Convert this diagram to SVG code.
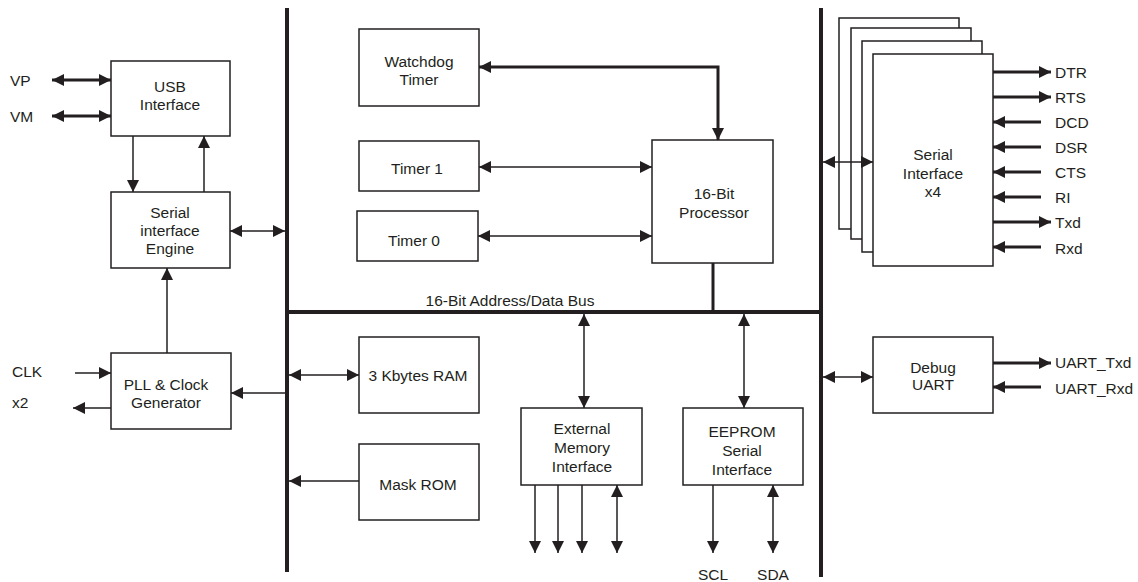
<svg xmlns="http://www.w3.org/2000/svg" width="1138" height="582" viewBox="0 0 1138 582">
<style>
.box{fill:#fff;stroke:#231f20;stroke-width:1.5}
.t{font-family:"Liberation Sans",Arial,sans-serif;font-size:15.5px;fill:#231f20}
.c{text-anchor:middle}
.bus{stroke:#231f20;stroke-width:4;fill:none}
.thin{stroke:#231f20;stroke-width:1.5;fill:none}
.thick{stroke:#231f20;stroke-width:3;fill:none}
</style>
<defs>
<marker id="ah" viewBox="0 0 12 12" refX="12" refY="6" markerWidth="12" markerHeight="12" markerUnits="userSpaceOnUse" orient="auto-start-reverse">
<path d="M0,0 L12,6 L0,12 z" fill="#231f20"/>
</marker>
</defs>
<g id="connectors">
<line class="bus" x1="287" y1="8" x2="287" y2="572"/>
<line class="bus" x1="821" y1="8" x2="821" y2="577"/>
<line class="bus" x1="287" y1="312" x2="823" y2="312"/>
<line class="thick" x1="713" y1="263" x2="713" y2="312"/>
<line class="thick" x1="52" y1="80" x2="111" y2="80" marker-start="url(#ah)" marker-end="url(#ah)"/>
<line class="thick" x1="52" y1="116" x2="111" y2="116" marker-start="url(#ah)" marker-end="url(#ah)"/>
<line class="thin" x1="133" y1="136" x2="133" y2="192" marker-end="url(#ah)"/>
<line class="thin" x1="204" y1="192" x2="204" y2="136" marker-end="url(#ah)"/>
<line class="thin" x1="230" y1="231" x2="285" y2="231" marker-start="url(#ah)" marker-end="url(#ah)"/>
<line class="thin" x1="167" y1="353" x2="167" y2="268" marker-end="url(#ah)"/>
<line class="thin" x1="75" y1="373" x2="111" y2="373" marker-end="url(#ah)"/>
<line class="thin" x1="111" y1="408" x2="73" y2="408" marker-end="url(#ah)"/>
<line class="thin" x1="285" y1="393" x2="231" y2="393" marker-end="url(#ah)"/>
<polyline class="thick" points="479,67 718,67 718,140" marker-start="url(#ah)" marker-end="url(#ah)"/>
<line class="thin" x1="479" y1="167" x2="652" y2="167" marker-start="url(#ah)" marker-end="url(#ah)"/>
<line class="thin" x1="478" y1="236" x2="652" y2="236" marker-start="url(#ah)" marker-end="url(#ah)"/>
<line class="thin" x1="289" y1="375" x2="359" y2="375" marker-start="url(#ah)" marker-end="url(#ah)"/>
<line class="thin" x1="359" y1="481" x2="289" y2="481" marker-end="url(#ah)"/>
<line class="thin" x1="584" y1="314" x2="584" y2="408" marker-start="url(#ah)" marker-end="url(#ah)"/>
<line class="thin" x1="744" y1="314" x2="744" y2="408" marker-start="url(#ah)" marker-end="url(#ah)"/>
<line class="thin" x1="535" y1="485" x2="535" y2="553" marker-end="url(#ah)"/>
<line class="thin" x1="558" y1="485" x2="558" y2="553" marker-end="url(#ah)"/>
<line class="thin" x1="582" y1="485" x2="582" y2="553" marker-end="url(#ah)"/>
<line class="thin" x1="617" y1="485" x2="617" y2="553" marker-start="url(#ah)" marker-end="url(#ah)"/>
<line class="thin" x1="713" y1="485" x2="713" y2="553" marker-end="url(#ah)"/>
<line class="thin" x1="773" y1="485" x2="773" y2="553" marker-start="url(#ah)" marker-end="url(#ah)"/>
<line class="thin" x1="823" y1="377" x2="873" y2="377" marker-start="url(#ah)" marker-end="url(#ah)"/>
<line class="thick" x1="993" y1="363" x2="1051" y2="363" marker-end="url(#ah)"/>
<line class="thick" x1="1041" y1="387" x2="993" y2="387" marker-end="url(#ah)"/>
<line class="thick" x1="993" y1="72" x2="1051" y2="72" marker-end="url(#ah)"/>
<line class="thick" x1="993" y1="97" x2="1051" y2="97" marker-end="url(#ah)"/>
<line class="thick" x1="1041" y1="122" x2="993" y2="122" marker-end="url(#ah)"/>
<line class="thick" x1="1041" y1="147" x2="993" y2="147" marker-end="url(#ah)"/>
<line class="thick" x1="1041" y1="172" x2="993" y2="172" marker-end="url(#ah)"/>
<line class="thick" x1="1041" y1="197" x2="993" y2="197" marker-end="url(#ah)"/>
<line class="thick" x1="993" y1="222" x2="1051" y2="222" marker-end="url(#ah)"/>
<line class="thick" x1="1041" y1="247" x2="993" y2="247" marker-end="url(#ah)"/>
</g>
<g id="usb"><rect class="box" x="111" y="61" width="119" height="75"/>
<text class="t c" x="170" y="92">USB</text><text class="t c" x="170" y="110">Interface</text></g>
<g id="sie"><rect class="box" x="111" y="192" width="119" height="76"/>
<text class="t c" x="170" y="218">Serial</text><text class="t c" x="170" y="236">interface</text><text class="t c" x="170" y="254">Engine</text></g>
<g id="pll"><rect class="box" x="111" y="353" width="120" height="76"/>
<text class="t c" x="166" y="390">PLL &amp; Clock</text><text class="t c" x="166" y="408">Generator</text></g>
<g id="labels-left">
<text class="t" x="10" y="86">VP</text><text class="t" x="10" y="122">VM</text>
<text class="t" x="12" y="377">CLK</text><text class="t" x="12" y="408">x2</text></g>
<g id="watchdog"><rect class="box" x="359" y="29" width="120" height="77"/>
<text class="t c" x="419" y="67">Watchdog</text><text class="t c" x="419" y="85">Timer</text></g>
<g id="timer1"><rect class="box" x="359" y="141" width="120" height="50"/>
<text class="t c" x="417" y="174">Timer 1</text></g>
<g id="timer0"><rect class="box" x="357" y="211" width="121" height="50"/>
<text class="t c" x="414" y="246">Timer 0</text></g>
<g id="processor"><rect class="box" x="652" y="140" width="121" height="123"/>
<text class="t c" x="714" y="199">16-Bit</text><text class="t c" x="714" y="218">Processor</text></g>
<g id="buslabel"><text class="t c" x="510" y="306">16-Bit Address/Data Bus</text></g>
<g id="serial">
<rect class="box" x="839" y="18" width="120" height="211"/>
<rect class="box" x="851" y="28" width="120" height="211"/>
<rect class="box" x="862" y="41" width="120" height="211"/>
<rect class="box" x="873" y="54" width="120" height="212"/>
<text class="t c" x="933" y="160">Serial</text><text class="t c" x="933" y="179">Interface</text><text class="t c" x="933" y="197">x4</text></g>
<line class="thin" x1="823" y1="162" x2="873" y2="162" marker-start="url(#ah)" marker-end="url(#ah)"/>
<g id="serial-labels">
<text class="t" x="1055" y="78">DTR</text><text class="t" x="1055" y="103">RTS</text>
<text class="t" x="1055" y="128">DCD</text><text class="t" x="1055" y="153">DSR</text>
<text class="t" x="1055" y="178">CTS</text><text class="t" x="1055" y="203">RI</text>
<text class="t" x="1055" y="228">Txd</text><text class="t" x="1055" y="254">Rxd</text></g>
<g id="debug"><rect class="box" x="873" y="337" width="120" height="76"/>
<text class="t c" x="933" y="373">Debug</text><text class="t c" x="933" y="390">UART</text>
<text class="t" x="1055" y="368">UART_Txd</text><text class="t" x="1055" y="394">UART_Rxd</text></g>
<g id="ram"><rect class="box" x="359" y="337" width="120" height="76"/>
<text class="t c" x="418" y="381">3 Kbytes RAM</text></g>
<g id="rom"><rect class="box" x="359" y="444" width="120" height="76"/>
<text class="t c" x="418" y="490">Mask ROM</text></g>
<g id="emi"><rect class="box" x="521" y="408" width="121" height="77"/>
<text class="t c" x="582" y="434">External</text><text class="t c" x="582" y="453">Memory</text><text class="t c" x="582" y="472">Interface</text></g>
<g id="eeprom"><rect class="box" x="683" y="408" width="120" height="77"/>
<text class="t c" x="742" y="437">EEPROM</text><text class="t c" x="742" y="456">Serial</text><text class="t c" x="742" y="475">Interface</text>
<text class="t c" x="713" y="580">SCL</text><text class="t c" x="773" y="580">SDA</text></g>
</svg>
